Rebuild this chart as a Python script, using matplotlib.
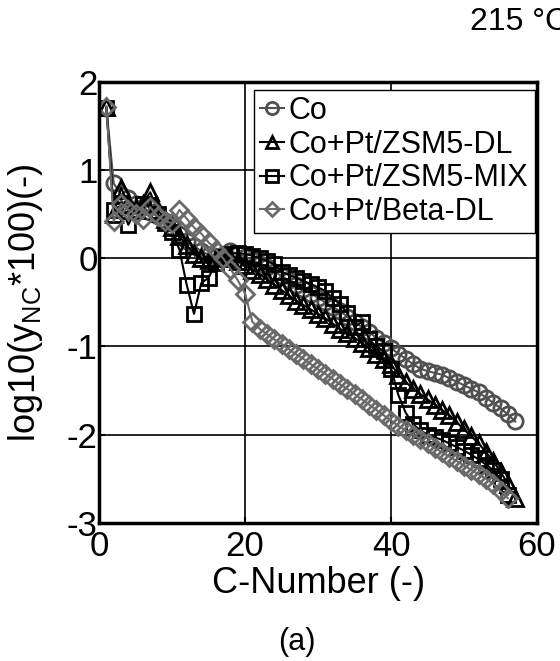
import matplotlib
matplotlib.use('Agg')
import matplotlib.pyplot as plt

plt.rcParams['font.family'] = ['Liberation Sans', 'DejaVu Sans']
plt.rcParams['mathtext.fontset'] = 'custom'
plt.rcParams['mathtext.rm'] = 'Liberation Sans'
plt.rcParams['axes.unicode_minus'] = False

# data: log10(y_NC*100) vs carbon number
c_co = list(range(1, 58))
y_co = [1.70, 0.85, 0.72, 0.68, 0.62, 0.58, 0.52, 0.48, 0.42, 0.35,
        0.28, 0.20, 0.14, 0.08, 0.04, 0.02, 0.04, 0.08, 0.05, 0.02,
        -0.02, -0.06, -0.10, -0.15, -0.20, -0.25, -0.30, -0.35, -0.40, -0.45,
        -0.50, -0.55, -0.60, -0.66, -0.72, -0.78, -0.84, -0.90, -0.96, -1.02,
        -1.08, -1.14, -1.20, -1.25, -1.28, -1.30, -1.32, -1.36, -1.40, -1.44,
        -1.48, -1.52, -1.58, -1.64, -1.70, -1.77, -1.85]

c_dl = list(range(1, 58))
y_dl = [1.72, 0.50, 0.80, 0.62, 0.55, 0.62, 0.75, 0.55, 0.45, 0.35,
        0.25, 0.15, 0.05, 0.00, -0.02, 0.00, 0.02, 0.00, -0.03, -0.08,
        -0.13, -0.18, -0.24, -0.30, -0.36, -0.42, -0.48, -0.53, -0.58, -0.63,
        -0.68, -0.74, -0.80, -0.85, -0.90, -0.96, -1.02, -1.08, -1.14, -1.20,
        -1.32, -1.40, -1.48, -1.54, -1.60, -1.66, -1.72, -1.78, -1.86, -1.94,
        -2.02, -2.10, -2.20, -2.30, -2.42, -2.56, -2.72]

c_mix = list(range(1, 57))
y_mix = [1.70, 0.55, 0.60, 0.38, 0.55, 0.62, 0.60, 0.50, 0.40, 0.30,
         0.10, -0.30, -0.63, -0.28, -0.22, -0.05, 0.02, 0.05, 0.06, 0.05,
         0.03, 0.00, -0.03, -0.07, -0.15, -0.19, -0.22, -0.26, -0.29, -0.33,
         -0.37, -0.45, -0.52, -0.62, -0.78, -0.72, -0.92, -1.00, -1.05, -1.25,
         -1.55, -1.75, -1.88, -1.95, -2.00, -2.03, -2.06, -2.10, -2.14, -2.18,
         -2.23, -2.28, -2.34, -2.40, -2.50, -2.68]

c_beta = list(range(1, 57))
y_beta = [1.72, 0.42, 0.62, 0.55, 0.50, 0.45, 0.58, 0.48, 0.42, 0.40,
          0.55, 0.45, 0.35, 0.28, 0.18, 0.10, 0.00, -0.12, -0.25, -0.40,
          -0.72, -0.80, -0.86, -0.92, -0.97, -1.03, -1.09, -1.14, -1.20, -1.26,
          -1.31, -1.37, -1.43, -1.48, -1.54, -1.60, -1.66, -1.72, -1.78, -1.84,
          -1.90, -1.95, -2.00, -2.05, -2.10, -2.15, -2.20, -2.25, -2.30, -2.35,
          -2.40, -2.45, -2.50, -2.56, -2.64, -2.72]

labels = ['Co', 'Co+Pt/ZSM5-DL', 'Co+Pt/ZSM5-MIX', 'Co+Pt/Beta-DL']

fig = plt.figure(figsize=(5.6, 6.61), dpi=100)
ax = fig.add_axes([0.177, 0.209, 0.782, 0.667])

ax.plot(c_co, y_co, marker='o', color='#505050', mfc='none', ms=11, mew=2, lw=1.5, label=labels[0])
ax.plot(c_dl, y_dl, marker='^', color='black', mfc='none', ms=11, mew=2, lw=1.5, label=labels[1])
ax.plot(c_mix, y_mix, marker='s', color='black', mfc='none', ms=10, mew=2, lw=1.5, label=labels[2])
ax.plot(c_beta, y_beta, marker='D', color='#6a6a6a', mfc='none', ms=9, mew=2, lw=1.5, label=labels[3])

ax.set_xlim(0, 60)
ax.set_ylim(-3, 2)
ax.set_xticks([0, 20, 40, 60])
ax.set_yticks([-3, -2, -1, 0, 1, 2])
ax.grid(True, color='black', lw=1.2)
ax.tick_params(direction='in', labelsize=25, length=4, width=1.5)
ax.tick_params(axis='x', pad=5)
ax.tick_params(axis='y', pad=1)
for s in ax.spines.values():
    s.set_linewidth(2.5)

ax.set_xlabel('C-Number (-)', fontsize=26, labelpad=2)
ax.set_ylabel(r'log10(y$_{\mathrm{NC}}$*100)(-)', fontsize=26, labelpad=16)

leg = ax.legend(loc='upper right', bbox_to_anchor=(0.995, 0.982), borderaxespad=0,
                fontsize=22, handlelength=0.8, handletextpad=0.15,
                labelspacing=0.12, borderpad=0.2, fancybox=False,
                framealpha=1, edgecolor='black', markerscale=0.8)
leg.get_frame().set_linewidth(1.0)

fig.text(0.84, 0.967, '215 °C', fontsize=23, ha='left', va='center')
fig.text(0.53, 0.029, '(a)', fontsize=22, ha='center', va='center')

fig.savefig('out.png', dpi=100)
